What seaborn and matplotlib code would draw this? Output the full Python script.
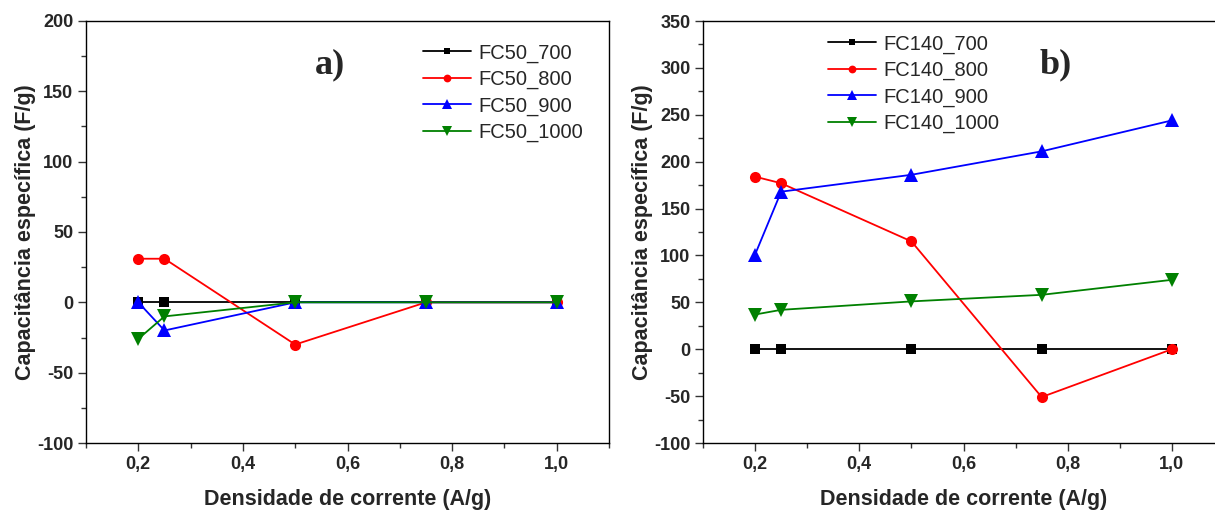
import matplotlib
matplotlib.use("Agg")
import matplotlib.pyplot as plt
import seaborn as sns
import pandas as pd
from matplotlib.ticker import MultipleLocator, FuncFormatter

# ---- data ----
x_vals = [0.2, 0.25, 0.5, 0.75, 1.0]

fc50_labels = ["FC50_700", "FC50_800", "FC50_900", "FC50_1000"]
fc50_700 = [0, 0, 0, 0, 0]
fc50_800 = [31, 31, -30, 0, 0]
fc50_900 = [0, -20, 0, 0, 0]
fc50_1000 = [-26, -10, 0, 0, 0]

fc140_labels = ["FC140_700", "FC140_800", "FC140_900", "FC140_1000"]
fc140_700 = [0, 0, 0, 0, 0]
fc140_800 = [184, 177, 115, -51, 0]
fc140_900 = [101, 168, 186, 211, 244]
fc140_1000 = [37, 42, 51, 58, 74]

xlabel = "Densidade de corrente (A/g)"
ylabel = "Capacitância específica (F/g)"

colors = ["#000000", "#FF0000", "#0000FF", "#008000"]
markers = ["s", "o", "^", "v"]
msizes = [7, 8, 10, 10]

sns.set_style("white")
plt.rcParams["font.family"] = ["Liberation Sans", "DejaVu Sans"]

fig = plt.figure(figsize=(12.15, 5.13), dpi=100)
ax1 = fig.add_axes([86/1215, 1-443/513, (609-86)/1215, (443-21)/513])
ax2 = fig.add_axes([703/1215, 1-443/513, (1224-703)/1215, (443-21)/513])


def draw(ax, labels, series, ylim, panel, ptxt, legpos):
    for lab, ys, c, m, ms in zip(labels, series, colors, markers, msizes):
        df = pd.DataFrame({"x": x_vals, "y": ys})
        sns.lineplot(data=df, x="x", y="y", ax=ax, color=c, marker=m,
                     markersize=ms, markeredgewidth=0, linewidth=1.3,
                     label=lab, errorbar=None)
    ax.set_xlim(0.1, 1.1)
    ax.set_ylim(*ylim)
    ax.xaxis.set_major_locator(MultipleLocator(0.2))
    ax.xaxis.set_minor_locator(MultipleLocator(0.1))
    ax.yaxis.set_major_locator(MultipleLocator(50))
    ax.yaxis.set_minor_locator(MultipleLocator(25))
    ax.xaxis.set_major_formatter(FuncFormatter(lambda v, p: f"{v:.1f}".replace(".", ",")))
    ax.yaxis.set_major_formatter(FuncFormatter(lambda v, p: f"{v:.0f}"))
    ax.tick_params(which="both", direction="out", bottom=True, left=True,
                   top=False, right=False, color="#333333")
    ax.tick_params(which="major", length=6, width=1, labelsize=13, pad=3)
    ax.tick_params(which="minor", length=3.5, width=1)
    for lbl in ax.get_xticklabels() + ax.get_yticklabels():
        lbl.set_fontweight("bold")
    for sp in ax.spines.values():
        sp.set_color("black")
        sp.set_linewidth(1.0)
        sp.set_visible(True)
    ax.set_xlabel(xlabel, fontsize=15.5, fontweight="bold", labelpad=12)
    ax.set_ylabel(ylabel, fontsize=15.5, fontweight="bold", labelpad=1)
    ax.text(ptxt[0], ptxt[1], panel, transform=ax.transAxes, fontsize=26,
            fontweight="bold", family="Liberation Serif", ha="center", va="center")
    ax.legend(loc="upper left", bbox_to_anchor=legpos, frameon=False,
              borderaxespad=0, borderpad=0, fontsize=14.5, handlelength=2.4,
              handletextpad=0.35, labelspacing=0.36, markerscale=0.7)


draw(ax1, fc50_labels, [fc50_700, fc50_800, fc50_900, fc50_1000], (-100, 200),
     "a)", (0.467, 0.896), (0.644, 0.947))
draw(ax2, fc140_labels, [fc140_700, fc140_800, fc140_900, fc140_1000], (-100, 350),
     "b)", (0.676, 0.896), (0.240, 0.968))

fig.savefig("out.png", dpi=100)
